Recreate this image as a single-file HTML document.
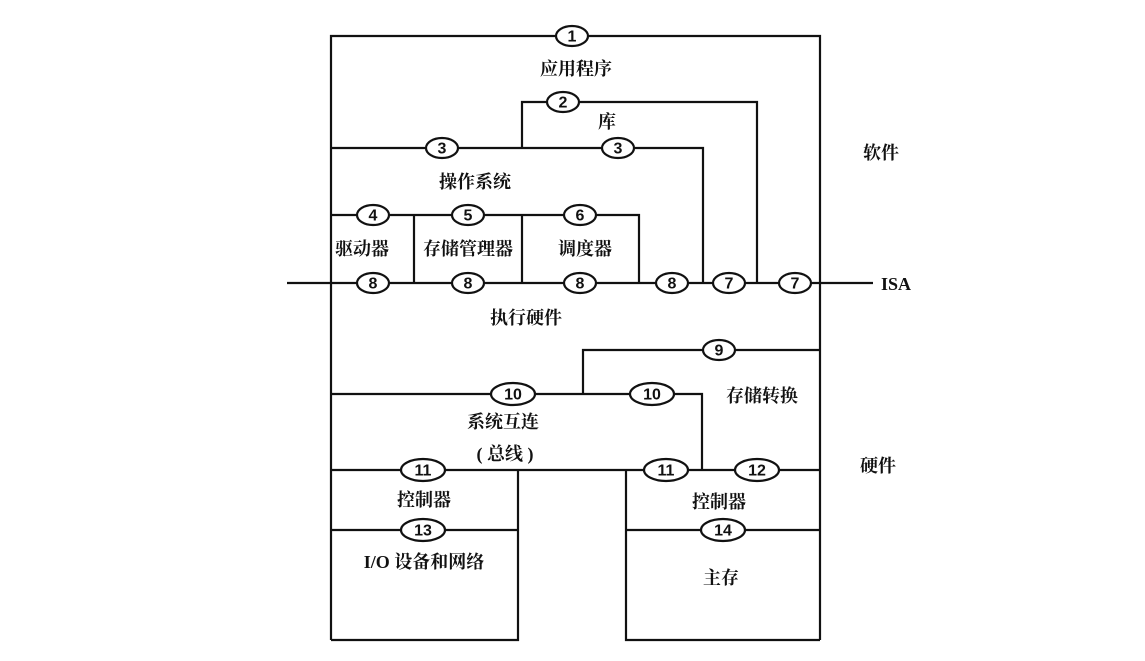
<!DOCTYPE html>
<html><head><meta charset="utf-8"><style>
html,body{margin:0;padding:0;background:#fff;}
svg{display:block}
text{font-family:"Liberation Serif","Noto Serif CJK SC","Noto Sans CJK SC",serif;font-weight:bold;fill:#111;}
.l{stroke:#111;stroke-width:2.2;fill:none}
.e{stroke:#111;stroke-width:2.2;fill:#fff}
.n{font-family:"Liberation Sans",sans-serif;font-size:16px;text-anchor:middle;dominant-baseline:central}
.t{font-size:18px;text-anchor:middle;dominant-baseline:central}
</style></head><body>
<svg width="1145" height="661" viewBox="0 0 1145 661" xmlns="http://www.w3.org/2000/svg">
<path class="l" d="M331 640 V36 H820 V640"/>
<path class="l" d="M522 148 V102 H757 V283"/>
<path class="l" d="M331 148 H703 V283"/>
<path class="l" d="M331 215 H639 V283 M414 215 V283 M522 215 V283"/>
<path class="l" d="M287 283 H873"/>
<path class="l" d="M820 350 H583 V394"/>
<path class="l" d="M331 394 H702 V470"/>
<path class="l" d="M331 470 H820 M518 470 V640 H331 M626 470 V640 H820"/>
<path class="l" d="M331 530 H518 M626 530 H820"/>

<g>
<ellipse class="e" cx="572" cy="36" rx="16" ry="10"/><text class="n" x="572" y="37">1</text>
<ellipse class="e" cx="563" cy="102" rx="16" ry="10"/><text class="n" x="563" y="103">2</text>
<ellipse class="e" cx="442" cy="148" rx="16" ry="10"/><text class="n" x="442" y="149">3</text>
<ellipse class="e" cx="618" cy="148" rx="16" ry="10"/><text class="n" x="618" y="149">3</text>
<ellipse class="e" cx="373" cy="215" rx="16" ry="10"/><text class="n" x="373" y="216">4</text>
<ellipse class="e" cx="468" cy="215" rx="16" ry="10"/><text class="n" x="468" y="216">5</text>
<ellipse class="e" cx="580" cy="215" rx="16" ry="10"/><text class="n" x="580" y="216">6</text>
<ellipse class="e" cx="373" cy="283" rx="16" ry="10"/><text class="n" x="373" y="284">8</text>
<ellipse class="e" cx="468" cy="283" rx="16" ry="10"/><text class="n" x="468" y="284">8</text>
<ellipse class="e" cx="580" cy="283" rx="16" ry="10"/><text class="n" x="580" y="284">8</text>
<ellipse class="e" cx="672" cy="283" rx="16" ry="10"/><text class="n" x="672" y="284">8</text>
<ellipse class="e" cx="729" cy="283" rx="16" ry="10"/><text class="n" x="729" y="284">7</text>
<ellipse class="e" cx="795" cy="283" rx="16" ry="10"/><text class="n" x="795" y="284">7</text>
<ellipse class="e" cx="719" cy="350" rx="16" ry="10"/><text class="n" x="719" y="351">9</text>
<ellipse class="e" cx="513" cy="394" rx="22" ry="11"/><text class="n" x="513" y="395">10</text>
<ellipse class="e" cx="652" cy="394" rx="22" ry="11"/><text class="n" x="652" y="395">10</text>
<ellipse class="e" cx="423" cy="470" rx="22" ry="11"/><text class="n" x="423" y="471">11</text>
<ellipse class="e" cx="666" cy="470" rx="22" ry="11"/><text class="n" x="666" y="471">11</text>
<ellipse class="e" cx="757" cy="470" rx="22" ry="11"/><text class="n" x="757" y="471">12</text>
<ellipse class="e" cx="423" cy="530" rx="22" ry="11"/><text class="n" x="423" y="531">13</text>
<ellipse class="e" cx="723" cy="530" rx="22" ry="11"/><text class="n" x="723" y="531">14</text>
</g>

<text class="t" x="576" y="69">应用程序</text>
<text class="t" x="607" y="122">库</text>
<text class="t" x="475" y="182">操作系统</text>
<text class="t" x="362" y="249">驱动器</text>
<text class="t" x="468" y="249">存储管理器</text>
<text class="t" x="585" y="249">调度器</text>
<text class="t" x="526" y="318">执行硬件</text>
<text class="t" x="762" y="396">存储转换</text>
<text class="t" x="503" y="422">系统互连</text>
<text class="t" x="505" y="454">( 总线 )</text>
<text class="t" x="424" y="500">控制器</text>
<text class="t" x="719" y="502">控制器</text>
<text class="t" x="424" y="562">I/O 设备和网络</text>
<text class="t" x="721" y="578">主存</text>
<text class="t" x="881" y="153">软件</text>
<text class="t" x="878" y="466">硬件</text>
<text class="t" x="896" y="284">ISA</text>
</svg>
</body></html>
